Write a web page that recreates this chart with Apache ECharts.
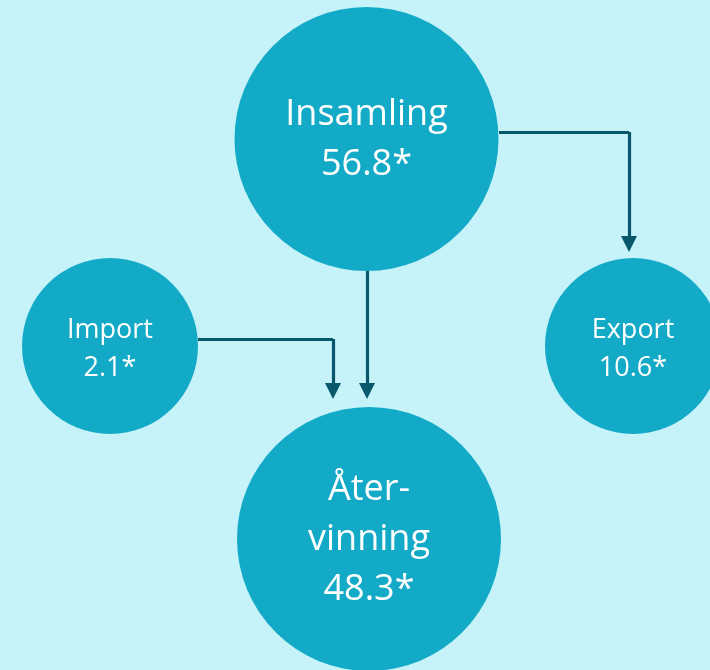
<!DOCTYPE html>
<html>
<head>
<meta charset="utf-8">
<script src="https://cdn.jsdelivr.net/npm/echarts@6/dist/echarts.min.js"></script>
<style>
html,body{margin:0;padding:0;background:#C6F2FA;}
#chart{width:710px;height:670px;}
</style>
</head>
<body>
<div id="chart"></div>
<script>
// ---- data ----
const nodeNames = ['Insamling', 'Import', 'Export', 'Återvinning'];
const nodeLabels = ['Insamling', 'Import', 'Export', 'Åter-\nvinning'];
const nodeValues = [56.8, 2.1, 10.6, 48.3];
const flows = [['Insamling', 'Export'], ['Insamling', 'Återvinning'], ['Import', 'Återvinning']];

// ---- layout (pixel-like data units) ----
const layout = {
  'Insamling':   {x: 366.5, y: 139, r: 132, big: true},
  'Import':      {x: 110,   y: 346, r: 88,  big: false},
  'Export':      {x: 633,   y: 346, r: 88,  big: false},
  'Återvinning': {x: 369,   y: 539, r: 132, big: true}
};
const ARROW = 16;
// connector routes: [start, elbow], [elbow, tip]
const routes = {
  'Insamling>Export':      {plain: [[499, 132], [629, 132]], arrow: [[629, 132], [629, 252]]},
  'Insamling>Återvinning': {plain: null, arrow: [[367, 271], [367, 399]]},
  'Import>Återvinning':    {plain: [[198, 339], [333, 339]], arrow: [[333, 339], [333, 399]]}
};

const circleColor = '#12AAC6';
const lineColor = '#06586A';

const scatterData = nodeNames.map((n, i) => {
  const L = layout[n];
  return {
    name: n,
    value: [L.x, L.y, nodeValues[i]],
    symbolSize: L.r * 2,
    label: {
      formatter: nodeLabels[i] + '\n' + nodeValues[i].toFixed(1) + '*',
      fontSize: L.big ? 36 : 27,
      lineHeight: L.big ? 50 : 38,
      offset: L.big ? [0, 1] : [0, 3]
    }
  };
});

const plainLines = [];
const arrowLines = [];
flows.forEach(f => {
  const r = routes[f[0] + '>' + f[1]];
  if (r.plain) plainLines.push({coords: r.plain});
  const a = r.arrow;
  const end = [a[1][0], a[1][1] - ARROW / 2];
  arrowLines.push({coords: [a[0], end]});
});

const chart = echarts.init(document.getElementById('chart'), null, {renderer: 'canvas'});
chart.setOption({
  backgroundColor: '#C6F2FA',
  animation: false,
  grid: {left: 0, right: 0, top: 0, bottom: 0},
  xAxis: {type: 'value', min: 0, max: 710, show: false},
  yAxis: {type: 'value', min: 0, max: 670, inverse: true, show: false},
  series: [
    {
      type: 'lines',
      coordinateSystem: 'cartesian2d',
      z: 2,
      symbol: ['none', 'none'],
      lineStyle: {color: lineColor, width: 3.2, opacity: 1, curveness: 0},
      data: plainLines
    },
    {
      type: 'lines',
      coordinateSystem: 'cartesian2d',
      z: 2,
      symbol: ['none', 'triangle'],
      symbolSize: ARROW,
      lineStyle: {color: lineColor, width: 3.2, opacity: 1, curveness: 0},
      data: arrowLines
    },
    {
      type: 'scatter',
      z: 3,
      symbol: 'circle',
      itemStyle: {color: circleColor, opacity: 1},
      label: {
        show: true,
        position: 'inside',
        color: '#ffffff',
        fontFamily: 'Open Sans',
        align: 'center',
        verticalAlign: 'middle'
      },
      emphasis: {disabled: true},
      data: scatterData
    }
  ]
});
</script>
</body>
</html>
